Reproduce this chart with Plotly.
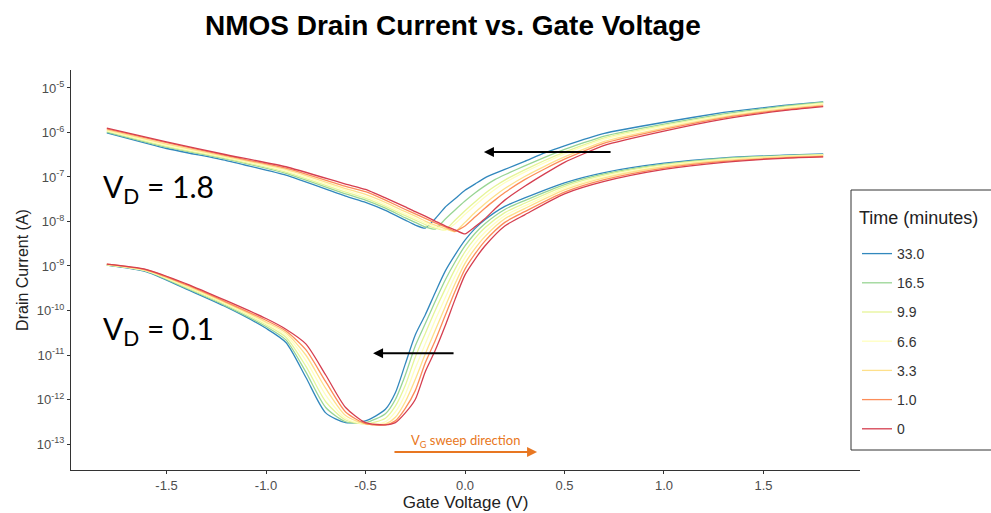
import plotly.graph_objects as go

# ---------------- data (log10 of drain current, A) ----------------
times = ["33.0", "16.5", "9.9", "6.6", "3.3", "1.0", "0"]
colors = ["#3288BD", "#99D594", "#E6F598", "#FFFFBF", "#FEE08B", "#FC8D59", "#D53E4F"]

vg_hi = [-1.8, -1.5, -1.2, -0.9, -0.6, -0.5, -0.4, -0.3, -0.25, -0.2, -0.15, -0.1, -0.05,
         0.0, 0.05, 0.1, 0.15, 0.2, 0.3, 0.4, 0.5, 0.7, 1.0, 1.3, 1.6, 1.8]
# VD = 1.8 V family, one list per time (same order as `times`)
log_hi_33_0 = [-6.01, -6.36, -6.63, -6.96, -7.43, -7.57, -7.75, -7.97, -8.08, -8.15, -7.94, -7.68, -7.49,
               -7.30, -7.16, -7.02, -6.92, -6.83, -6.65, -6.46, -6.30, -6.02, -5.77, -5.55, -5.39, -5.31]
log_hi_16_5 = [-5.99, -6.33, -6.60, -6.92, -7.38, -7.52, -7.70, -7.92, -8.02, -8.12, -8.17, -7.95, -7.74,
               -7.54, -7.36, -7.20, -7.06, -6.95, -6.75, -6.56, -6.38, -6.08, -5.81, -5.58, -5.41, -5.32]
log_hi_9_9 = [-5.97, -6.31, -6.58, -6.89, -7.34, -7.48, -7.66, -7.87, -7.97, -8.07, -8.15, -8.19, -7.97,
              -7.76, -7.56, -7.37, -7.21, -7.07, -6.84, -6.63, -6.44, -6.12, -5.84, -5.61, -5.43, -5.34]
log_hi_6_6 = [-5.96, -6.29, -6.56, -6.86, -7.30, -7.44, -7.62, -7.83, -7.93, -8.03, -8.12, -8.20, -8.05,
              -7.84, -7.64, -7.45, -7.28, -7.13, -6.89, -6.68, -6.48, -6.15, -5.86, -5.62, -5.44, -5.35]
log_hi_3_3 = [-5.94, -6.26, -6.54, -6.83, -7.26, -7.39, -7.57, -7.78, -7.88, -7.99, -8.08, -8.16, -8.23,
              -8.02, -7.80, -7.60, -7.42, -7.26, -6.99, -6.76, -6.55, -6.20, -5.90, -5.65, -5.47, -5.38]
log_hi_1_0 = [-5.92, -6.23, -6.52, -6.80, -7.21, -7.33, -7.52, -7.73, -7.83, -7.93, -8.03, -8.12, -8.22,
              -8.10, -7.90, -7.70, -7.52, -7.35, -7.06, -6.82, -6.60, -6.24, -5.93, -5.67, -5.49, -5.40]
log_hi_0 = [-5.90, -6.21, -6.50, -6.77, -7.16, -7.28, -7.47, -7.67, -7.78, -7.88, -7.99, -8.10, -8.19,
            -8.28, -8.12, -7.94, -7.72, -7.52, -7.21, -6.93, -6.67, -6.29, -5.97, -5.70, -5.51, -5.42]

vg_lo = [-1.8, -1.6, -1.4, -1.2, -1.0, -0.9, -0.8, -0.7, -0.6, -0.5, -0.4, -0.35, -0.3, -0.25,
         -0.2, -0.15, -0.1, -0.05, 0.0, 0.05, 0.1, 0.2, 0.3, 0.5, 0.7, 1.0, 1.3, 1.6, 1.8]
# VD = 0.1 V family
log_lo_33_0 = [-8.98, -9.13, -9.52, -9.92, -10.40, -10.72, -11.50, -12.30, -12.52, -12.48, -12.22, -11.85, -11.20, -10.55,
               -10.10, -9.60, -9.12, -8.75, -8.42, -8.16, -7.96, -7.66, -7.47, -7.13, -6.90, -6.69, -6.57, -6.51, -6.48]
log_lo_16_5 = [-8.98, -9.12, -9.50, -9.90, -10.36, -10.66, -11.38, -12.18, -12.50, -12.52, -12.32, -12.00, -11.45, -10.80,
               -10.30, -9.80, -9.32, -8.91, -8.55, -8.27, -8.05, -7.73, -7.53, -7.17, -6.93, -6.71, -6.58, -6.52, -6.49]
log_lo_9_9 = [-8.97, -9.11, -9.48, -9.87, -10.32, -10.60, -11.25, -12.05, -12.46, -12.55, -12.42, -12.15, -11.68, -11.05,
              -10.52, -10.00, -9.52, -9.07, -8.68, -8.38, -8.14, -7.80, -7.59, -7.21, -6.96, -6.73, -6.60, -6.53, -6.50]
log_lo_6_6 = [-8.97, -9.11, -9.46, -9.85, -10.29, -10.55, -11.12, -11.90, -12.42, -12.56, -12.50, -12.28, -11.88, -11.30,
              -10.75, -10.22, -9.72, -9.23, -8.81, -8.49, -8.24, -7.87, -7.65, -7.25, -6.99, -6.75, -6.61, -6.54, -6.51]
log_lo_3_3 = [-8.97, -9.10, -9.44, -9.83, -10.26, -10.50, -11.00, -11.75, -12.36, -12.55, -12.55, -12.40, -12.05, -11.55,
              -10.98, -10.45, -9.92, -9.40, -8.94, -8.61, -8.34, -7.94, -7.71, -7.29, -7.02, -6.77, -6.63, -6.55, -6.52]
log_lo_1_0 = [-8.96, -9.09, -9.42, -9.81, -10.22, -10.46, -10.88, -11.60, -12.28, -12.54, -12.57, -12.48, -12.20, -11.80,
              -11.18, -10.68, -10.12, -9.57, -9.07, -8.73, -8.44, -8.02, -7.78, -7.34, -7.06, -6.80, -6.65, -6.57, -6.54]
log_lo_0 = [-8.96, -9.08, -9.40, -9.78, -10.18, -10.42, -10.75, -11.45, -12.18, -12.52, -12.57, -12.52, -12.30, -12.00,
            -11.38, -10.90, -10.35, -9.75, -9.20, -8.85, -8.55, -8.10, -7.85, -7.38, -7.10, -6.83, -6.67, -6.58, -6.55]

hi_sets = [log_hi_33_0, log_hi_16_5, log_hi_9_9, log_hi_6_6, log_hi_3_3, log_hi_1_0, log_hi_0]
lo_sets = [log_lo_33_0, log_lo_16_5, log_lo_9_9, log_lo_6_6, log_lo_3_3, log_lo_1_0, log_lo_0]

x_ticks = [-1.5, -1.0, -0.5, 0.0, 0.5, 1.0, 1.5]
x_tick_text = ["-1.5", "-1.0", "-0.5", "0.0", "0.5", "1.0", "1.5"]
y_exps = [-13, -12, -11, -10, -9, -8, -7, -6, -5]

FONT = "Liberation Sans, Arial, sans-serif"
CAL = "Lato, Open Sans, sans-serif"

fig = go.Figure()
for t, c, hi, lo in zip(times, colors, hi_sets, lo_sets):
    fig.add_trace(go.Scatter(x=vg_hi, y=[10 ** v for v in hi], mode="lines", name=t,
                             legendgroup=t, line=dict(color=c, width=1.3, shape="spline", smoothing=0.4)))
    fig.add_trace(go.Scatter(x=vg_lo, y=[10 ** v for v in lo], mode="lines", name=t,
                             legendgroup=t, showlegend=False,
                             line=dict(color=c, width=1.3, shape="spline", smoothing=0.7)))

# plot area: x 71..860 px, y 70..470 px
PX0, PX1, PY0, PY1 = 71, 860, 70, 470


def px(xp):
    return (xp - PX0) / (PX1 - PX0)


def py(yp):
    return (PY1 - yp) / (PY1 - PY0)


fig.update_layout(
    width=991, height=513,
    margin=dict(l=PX0, r=991 - PX1, t=PY0, b=513 - PY1, autoexpand=False),
    paper_bgcolor="white", plot_bgcolor="white",
    font=dict(family=FONT, color="#333333"),
    title=dict(text="<b>NMOS Drain Current vs. Gate Voltage</b>", x=0.457, xref="container",
               xanchor="center", y=0.95, yref="container", yanchor="middle",
               font=dict(size=28, color="black", family=FONT)),
    legend=dict(x=px(857), xanchor="left", y=py(238), yanchor="top",
                borderwidth=0, bgcolor="rgba(0,0,0,0)",
                font=dict(size=14, color="#333333"), tracegroupgap=8,
                traceorder="grouped"),
    showlegend=True,
)

fig.update_xaxes(range=[-1.98, 1.985], showgrid=False, zeroline=False, automargin=False,
                 showline=True, linecolor="#333333", linewidth=1,
                 ticks="outside", ticklen=3, tickcolor="#333333",
                 tickvals=x_ticks, ticktext=x_tick_text,
                 tickfont=dict(size=13, color="#4D4D4D"),
                 title=dict(text="Gate Voltage (V)", font=dict(size=17, color="#222222"), standoff=0))
fig.update_yaxes(type="log", range=[-13.584, -4.596], showgrid=False, zeroline=False, automargin=False,
                 showline=True, linecolor="#333333", linewidth=1,
                 ticks="outside", ticklen=3, tickcolor="#333333",
                 tickvals=[10 ** e for e in y_exps],
                 ticktext=["10<sup>%d</sup>" % e for e in y_exps],
                 tickfont=dict(size=13, color="#4D4D4D"),
                 title=dict(text="Drain Current (A)", font=dict(size=16, color="#222222"), standoff=4))

# legend frame and title
fig.add_shape(type="rect", xref="paper", yref="paper", x0=px(851), x1=px(1000), y0=py(450), y1=py(190),
              line=dict(color="#333333", width=1), fillcolor="white", layer="below")
fig.add_annotation(x=px(857), y=py(218), xref="paper", yref="paper", text="Time (minutes)",
                   showarrow=False, xanchor="left", yanchor="middle",
                   font=dict(size=18, color="#222222", family=FONT))

# labels
fig.add_annotation(x=-1.83, y=-7.25, xref="x", yref="y", text="V<sub>D</sub> = 1.8",
                   showarrow=False, xanchor="left", yanchor="middle",
                   font=dict(size=30, color="black", family=CAL))
fig.add_annotation(x=-1.83, y=-10.44, xref="x", yref="y", text="V<sub>D</sub> = 0.1",
                   showarrow=False, xanchor="left", yanchor="middle",
                   font=dict(size=30, color="black", family=CAL))

# shift arrows
fig.add_annotation(x=0.095, y=-6.44, ax=0.739, ay=-6.44, xref="x", yref="y", axref="x", ayref="y",
                   text="", showarrow=True, arrowhead=2, arrowsize=1, arrowwidth=2, arrowcolor="black")
fig.add_annotation(x=-0.462, y=-10.96, ax=-0.05, ay=-10.96, xref="x", yref="y", axref="x", ayref="y",
                   text="", showarrow=True, arrowhead=2, arrowsize=1, arrowwidth=2, arrowcolor="black")

# sweep direction
fig.add_annotation(x=0.362, y=-13.18, ax=-0.362, ay=-13.18, xref="x", yref="y", axref="x", ayref="y",
                   text="", showarrow=True, arrowhead=2, arrowsize=1, arrowwidth=2, arrowcolor="#E87722")
fig.add_annotation(x=0.0, y=-12.93, xref="x", yref="y", text="V<sub>G</sub> sweep direction",
                   showarrow=False, xanchor="center", yanchor="middle",
                   font=dict(size=13, color="#E87722", family=CAL))

fig.write_html("out.html")
